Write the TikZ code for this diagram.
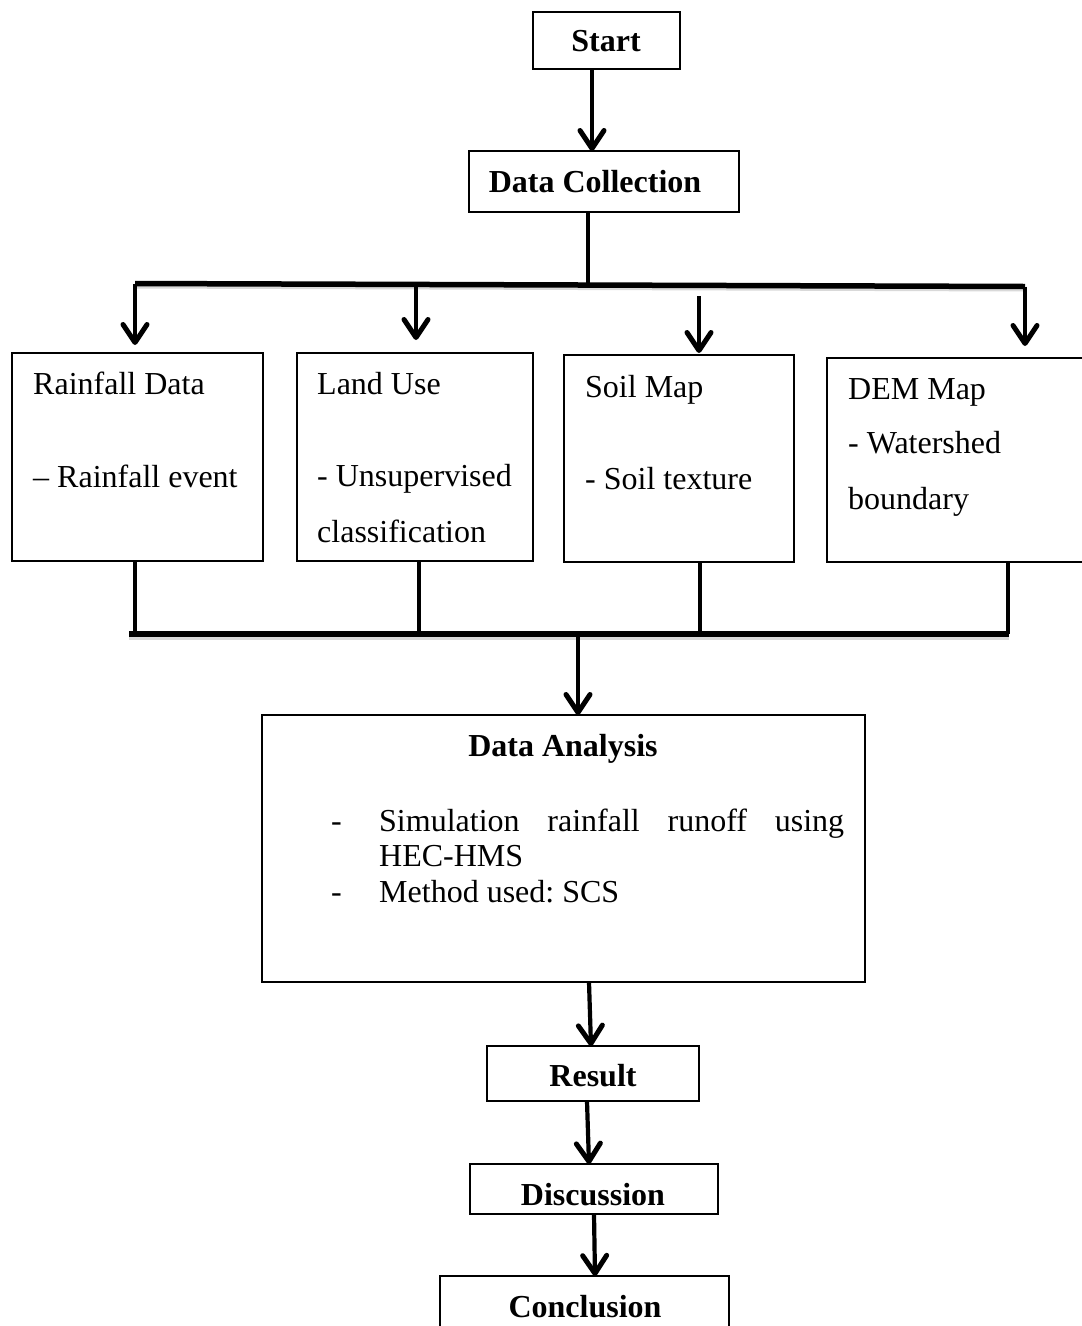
\documentclass[tikz,border=0pt]{standalone}
\usepackage{fontspec}
\setmainfont{Liberation Serif}
\usetikzlibrary{arrows.meta}
\begin{document}
\frenchspacing
\begin{tikzpicture}[x=1pt,y=-1pt,
  box/.style={draw, line width=1.6pt, inner sep=0pt, outer sep=0pt, fill=white},
  txt/.style={inner sep=0pt, anchor=base west, font=\fontsize{32}{35.5}\selectfont},
  btxt/.style={inner sep=0pt, anchor=base, font=\fontsize{32}{35.5}\selectfont\bfseries},
  arr/.style={line width=4.2pt, -{Straight Barb[length=18pt,width=24pt,round,line width=5pt]}},
  conn/.style={line width=4pt},
  bar/.style={line width=5.5pt},
  shad/.style={line width=4pt, black!15}
]
\clip (0,0) rectangle (1082,1326);
\fill[white] (0,0) rectangle (1082,1326);

% boxes
\node[box, minimum width=147pt, minimum height=57pt] (start) at (606.5,40.5) {};
\node[box, minimum width=270pt, minimum height=61pt] (dc) at (604,181.5) {};
\node[box, minimum width=251pt, minimum height=208pt] (rain) at (137.5,457) {};
\node[box, minimum width=236pt, minimum height=208pt] (land) at (415,457) {};
\node[box, minimum width=230pt, minimum height=207pt] (soil) at (679,458.5) {};
\node[box, minimum width=258pt, minimum height=204pt] (dem) at (956,460) {};
\node[box, minimum width=603pt, minimum height=267pt] (da) at (563.5,848.5) {};
\node[box, minimum width=212pt, minimum height=55pt] (res) at (593,1073.5) {};
\node[box, minimum width=248pt, minimum height=50pt] (disc) at (594,1189) {};
\node[box, minimum width=289pt, minimum height=60pt] (concl) at (584.5,1306) {};

% texts
\node[btxt] (tstart) at (606,51) {Start};
\node[btxt] (tdc) at (595,192) {Data Collection};
\node[txt] (tr1) at (33,394) {Rainfall Data};
\node[txt] (tr2) at (33,487) {\textendash\ Rainfall event};
\node[txt] (tl1) at (317,394) {Land Use};
\node[txt] (tl2) at (317,486) {- Unsupervised};
\node[txt] (tl3) at (317,542) {classification};
\node[txt] (ts1) at (585,397) {Soil Map};
\node[txt] (ts2) at (585,489) {- Soil texture};
\node[txt] (td1) at (848,399) {DEM Map};
\node[txt] (td2) at (848,453) {- Watershed};
\node[txt] (td3) at (848,509) {boundary};
\node[btxt] (tda) at (563,756) {Data Analysis};
\node[txt] (dash1) at (331,831) {-};
\node[txt] (tsim) at (379,831) {\makebox[465pt][s]{Simulation rainfall runoff using}};
\node[txt] (thec) at (379,866) {HEC-HMS};
\node[txt] (dash2) at (331,902) {-};
\node[txt] (tmeth) at (379,902) {Method used: SCS};
\node[btxt] (tres) at (593,1086) {Result};
\node[btxt] (tdisc) at (593,1205) {Discussion};
\node[btxt] (tconcl) at (585,1317) {Conclusion};

% coordinates
\coordinate (tbL) at (135,283.5);
\coordinate (tbR) at (1025,286.5);
\coordinate (tbM) at (588,284.5);
\coordinate (a2) at (416,284);
\coordinate (a3) at (699,296);
\coordinate (bbL) at (129,634);
\coordinate (bbR) at (1009,634);
\coordinate (b1) at (135,634);
\coordinate (b2) at (419,634);
\coordinate (b3) at (700,634);
\coordinate (b4) at (1008,634);
\coordinate (bbM) at (578,634);

% connectors
\draw[arr] ([xshift=-14.5pt]start.south) -- ([xshift=-12pt]dc.north);
\draw[conn] ([xshift=-16pt]dc.south) -- (tbM);
\draw[shad] ([yshift=-3pt]tbL) -- ([yshift=-3pt]tbR);
\draw[bar] (tbL) -- (tbR);
\draw[arr, shorten >=8pt] (tbL) -- ([xshift=-2.5pt]rain.north);
\draw[arr, shorten >=13pt] (a2) -- ([xshift=1pt]land.north);
\draw[arr, shorten >=2pt] (a3) -- ([xshift=20pt]soil.north);
\draw[arr, shorten >=12pt] (tbR) -- ([xshift=69pt]dem.north);

\draw[conn] ([xshift=-2.5pt]rain.south) -- (b1);
\draw[conn] ([xshift=4pt]land.south) -- (b2);
\draw[conn] ([xshift=21pt]soil.south) -- (b3);
\draw[conn] ([xshift=52pt]dem.south) -- (b4);
\draw[shad] ([yshift=-4pt]bbL) -- ([yshift=-4pt]bbR);
\draw[bar, line width=6pt] (bbL) -- (bbR);
\draw[arr] (bbM) -- ([xshift=14.5pt]da.north);

\draw[arr] ([xshift=25.5pt]da.south) -- ([xshift=-2pt]res.north);
\draw[arr] ([xshift=-6pt]res.south) -- ([xshift=-5pt]disc.north);
\draw[arr] (disc.south) -- ([xshift=10.5pt]concl.north);
\end{tikzpicture}
\end{document}
